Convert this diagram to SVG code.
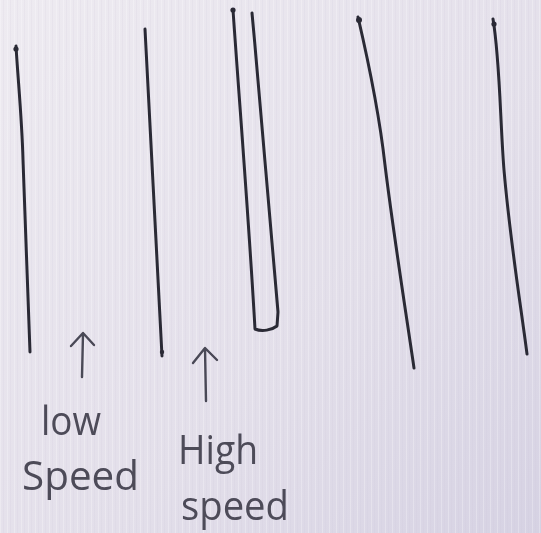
<svg xmlns="http://www.w3.org/2000/svg" width="541" height="533" viewBox="0 0 541 533">
  <defs>
    <linearGradient id="paper" x1="0" y1="0" x2="1" y2="1">
      <stop offset="0" stop-color="#eeebf1"/>
      <stop offset="0.6" stop-color="#e3dfea"/>
      <stop offset="1" stop-color="#d6d2e3"/>
    </linearGradient>
    <pattern id="grain" width="7" height="533" patternUnits="userSpaceOnUse">
      <rect x="0" y="0" width="1" height="533" fill="#ffffff" opacity="0.25"/>
      <rect x="3" y="0" width="1" height="533" fill="#c9c4d4" opacity="0.15"/>
    </pattern>
    <filter id="soft" x="-10%" y="-10%" width="120%" height="120%">
      <feGaussianBlur stdDeviation="0.6"/>
    </filter>
  </defs>
  <style>
    .ink { fill: none; stroke: #2b2a36; stroke-width: 3; stroke-linecap: round; stroke-linejoin: round; }
    .dot { fill: #2b2a36; }
    .pen { fill: none; stroke: #4a4856; stroke-width: 2.4; stroke-linecap: round; stroke-linejoin: round; }
    .hand { font-family: "Open Sans", "Liberation Sans", sans-serif; font-size: 40px; fill: #4d4b59; }
  </style>

  <!-- paper -->
  <rect width="541" height="533" fill="url(#paper)"/>
  <rect width="541" height="533" fill="url(#grain)"/>

  <g filter="url(#soft)">
    <!-- strokes, each with the pen blot where it starts -->
    <g id="stroke-1"><path class="ink" d="M16 46 C 18 80, 22 120, 23 160 L 30 352"/><circle class="dot" cx="16" cy="49" r="2.6"/></g>
    <g id="stroke-2"><path class="ink" d="M145 29 C 150 140, 156 250, 162 356"/><circle class="dot" cx="162" cy="352" r="2.2"/></g>
    <g id="stroke-u"><path class="ink" d="M233 10 C 240 110, 248 210, 254 312 L 255 329 C 262 332, 272 330, 277 326 L 278 312 C 270 230, 262 120, 252 13"/><circle class="dot" cx="233" cy="10" r="2.6"/></g>
    <g id="stroke-4"><path class="ink" d="M358 17 C 368 60, 380 120, 385 165 C 393 230, 404 300, 414 368"/><circle class="dot" cx="359" cy="20" r="3"/></g>
    <g id="stroke-5"><path class="ink" d="M493 19 C 500 60, 500 120, 504 170 C 510 240, 520 300, 527 354"/><circle class="dot" cx="494" cy="24" r="2.6"/></g>

    <!-- pointers -->
    <g id="connectors">
      <path class="pen" d="M82 377 L 83 334 M71 346 L 83 333 L 94 345"/>
      <path class="pen" d="M206 401 L 205 349 M193 363 L 205 348 L 217 360"/>
    </g>

    <!-- labels -->
    <g id="label-low">
      <text class="hand" x="41" y="435" textLength="60" lengthAdjust="spacingAndGlyphs">low</text>
      <text class="hand" x="22" y="490" textLength="117" lengthAdjust="spacingAndGlyphs">Speed</text>
    </g>
    <g id="label-high">
      <text class="hand" x="178" y="464" textLength="80" lengthAdjust="spacingAndGlyphs">High</text>
      <text class="hand" x="181" y="520" textLength="108" lengthAdjust="spacingAndGlyphs">speed</text>
    </g>
  </g>
</svg>
